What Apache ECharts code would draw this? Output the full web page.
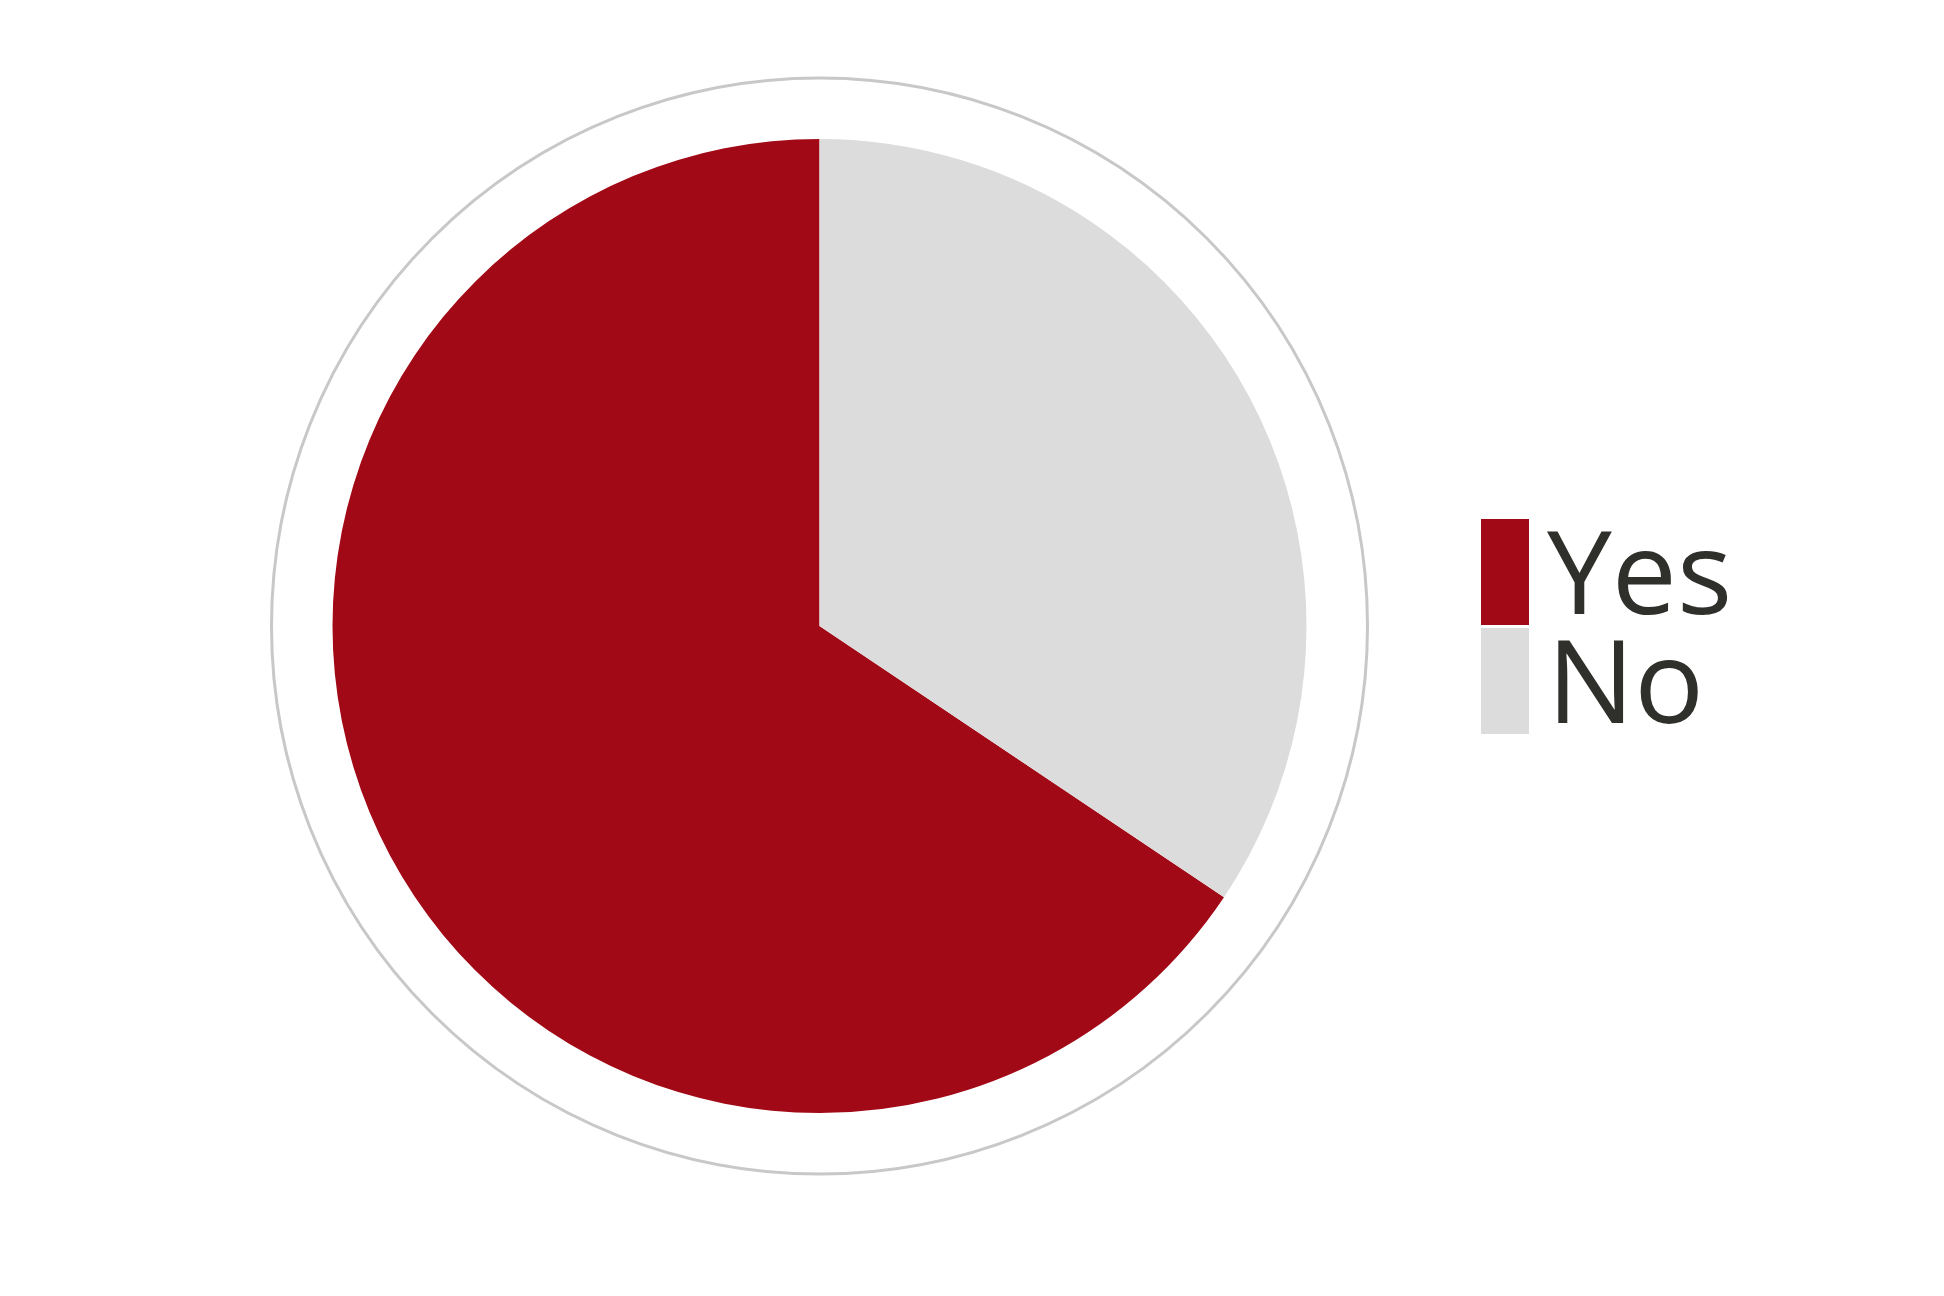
<!DOCTYPE html>
<html>
<head>
<meta charset="utf-8">
<script src="https://cdn.jsdelivr.net/npm/echarts@6/dist/echarts.min.js"></script>
<style>
    html,body{margin:0;padding:0;background:#fff;}
    #answers{width:1944px;height:1296px;}
</style>
</head>
<body>
<div id="answers"></div>
<script>
    // answer shares
    var categories=['Yes','No'];
    var shares=[65.6,34.4];
    var colors=['#a20916','#dcdcdc'];

    var chart=echarts.init(document.getElementById('answers'));
    var option={
        animation:false,
        legend:{
            orient:'vertical',
            left:1481,
            top:519,
            padding:0,
            itemWidth:48,
            itemHeight:106,
            itemGap:-11,
            icon:'rect',
            selectedMode:false,
            data:categories,
            formatter:'{t|{name}}',
            textStyle:{
                rich:{
                    t:{
                        fontFamily:'Open Sans',
                        fontSize:116,
                        color:'#2f302b',
                        padding:[18,0,0,13]
                    }
                }
            }
        },
        series:[
            {
                // outer guide ring
                type:'pie',
                silent:true,
                center:[819.5,626],
                radius:548,
                label:{show:false},
                labelLine:{show:false},
                itemStyle:{color:'rgba(0,0,0,0)',borderColor:'#c8c8c8',borderWidth:3},
                data:[{name:'ring',value:1}]
            },
            {
                type:'pie',
                silent:true,
                center:[819.5,626],
                radius:487,
                startAngle:90,
                clockwise:false,
                label:{show:false},
                labelLine:{show:false},
                data:categories.map(function(c,i){
                    return {name:c,value:shares[i],itemStyle:{color:colors[i]}};
                })
            }
        ]
    };
    chart.setOption(option);
</script>
</body>
</html>
